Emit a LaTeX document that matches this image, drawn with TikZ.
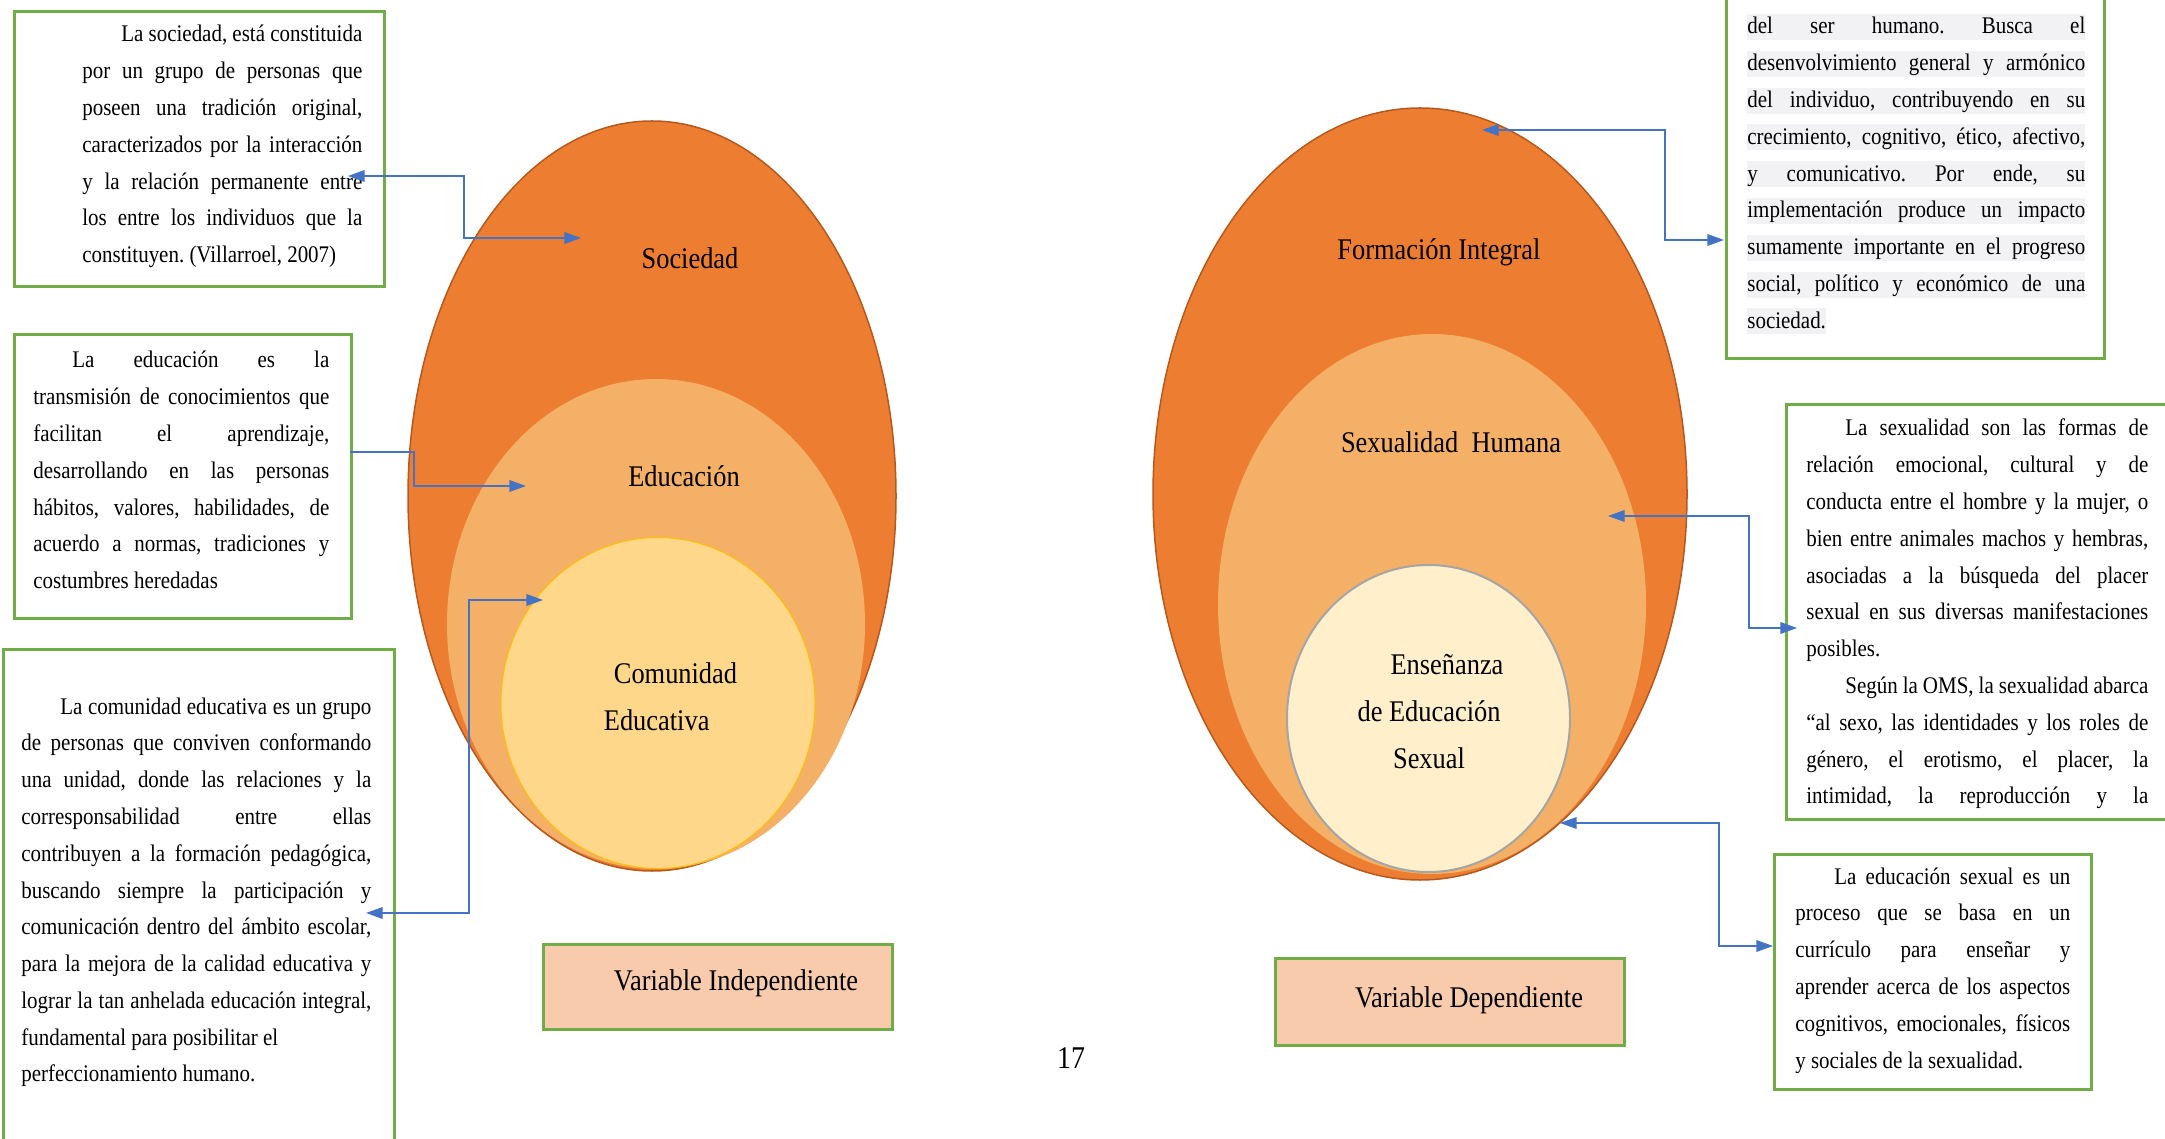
\documentclass[tikz,border=0pt]{standalone}
\usepackage{fontspec}
\setmainfont{Liberation Serif}[FakeStretch=0.88]
\usepackage{xcolor}
\usetikzlibrary{arrows.meta, shapes.geometric}

\definecolor{boxgreen}{HTML}{70AD47}
\definecolor{linkblue}{HTML}{4472C4}
\definecolor{peach}{HTML}{F8CBAD}
\definecolor{orangeA}{HTML}{ED7D31}
\definecolor{orangeEdge}{HTML}{B5591F}
\definecolor{orangeB}{HTML}{F4B066}
\definecolor{goldC}{HTML}{FED78B}
\definecolor{goldEdge}{HTML}{FFC000}
\definecolor{creamC}{HTML}{FFF0CB}
\definecolor{greyEdge}{HTML}{A5A5A5}
\definecolor{hlgrey}{HTML}{F2F2F4}

\newlength{\upx}\setlength{\upx}{0.6pt}
\newlength{\indw}\setlength{\indw}{39\upx}
\setlength{\fboxsep}{0pt}
\frenchspacing
\newcommand{\txtfont}{\fontsize{14.3pt}{22.08pt}\selectfont\frenchspacing}
\newcommand{\lblfont}{\fontsize{18pt}{28.2pt}\selectfont}
\newcommand{\jl}[1]{\makebox[\linewidth][s]{#1}\par}
\newcommand{\ji}[1]{\hspace*{\indw}\makebox[\dimexpr\linewidth-\indw\relax][s]{#1}\par}
\newcommand{\hj}[1]{\colorbox{hlgrey}{\rule[-3.6pt]{0pt}{15.6pt}\makebox[\linewidth][s]{#1}}\par}
\newcommand{\para}[2]{\parbox[t]{#1}{\txtfont #2}}

\tikzset{
  txtbox/.style={draw=boxgreen, line width=1.8pt, rectangle, inner sep=0pt},
  varbox/.style={txtbox, fill=peach, font=\lblfont},
  ring/.style={ellipse, inner sep=0pt},
  link/.style={draw=linkblue, line width=0.9pt},
  tip/.style={-{Triangle[length=10pt, width=7pt]}},
  tips/.style={{Triangle[length=10pt, width=7pt]}-{Triangle[length=10pt, width=7pt]}}
}

\begin{document}
\begin{tikzpicture}[x=0.6pt, y=-0.6pt]
\useasboundingbox (0,0) rectangle (2165,1139);
\clip (0,0) rectangle (2165,1139);

\node[ring, fill=orangeA, draw=orangeEdge, line width=0.9pt, minimum width=488*\upx, minimum height=750*\upx] (soc) at (652,496) {};
\node[ring, fill=orangeB, minimum width=418*\upx, minimum height=490*\upx] (edu) at (656,624) {};
\node[ring, fill=goldC, draw=goldEdge, line width=0.6pt, minimum width=314*\upx, minimum height=331*\upx] (com) at (658,703) {};

\node[ring, fill=orangeA, draw=orangeEdge, line width=0.9pt, minimum width=534*\upx, minimum height=772*\upx] (form) at (1420,494) {};
\node[ring, fill=orangeB, minimum width=428*\upx, minimum height=540*\upx] (sexh) at (1432,604) {};
\node[ring, fill=creamC, draw=greyEdge, line width=1.2pt, minimum width=283*\upx, minimum height=307*\upx] (ense) at (1428.5,718.5) {};

\node[font=\lblfont] (soclbl) at (690,258) {Sociedad};
\node[font=\lblfont] (edulbl) at (684,476) {Educación};
\node[font=\lblfont, align=left] (comlbl) at (670.5,697) {\hspace*{10\upx}Comunidad\\Educativa};
\node[font=\lblfont] (formlbl) at (1439,252) {Formación Integral};
\node[font=\lblfont] (sexlbl) at (1451,442) {Sexualidad~~Humana};
\node[font=\lblfont, align=center] (enslbl) at (1429,711.5) {\hspace*{36\upx}Enseñanza\\de Educación\\Sexual};

\node[txtbox, anchor=north west, minimum width=370*\upx, minimum height=275*\upx] (socbox) at (13,10) {};
\node[anchor=base west, inner sep=0pt] (soctxt) at (82,42) {\para{280\upx}{%
\ji{La sociedad, está constituida}
\jl{por un grupo de personas que}
\jl{poseen una tradición original,}
\jl{caracterizados por la interacción}
\jl{y la relación permanente entre}
\jl{los entre los individuos que la}
constituyen. (Villarroel, 2007)\par}};

\node[txtbox, anchor=north west, minimum width=337*\upx, minimum height=284*\upx] (edubox) at (13,333) {};
\node[anchor=base west, inner sep=0pt] (edutxt) at (33,368) {\para{296\upx}{%
\ji{La educación es la}
\jl{transmisión de conocimientos que}
\jl{facilitan el aprendizaje,}
\jl{desarrollando en las personas}
\jl{hábitos, valores, habilidades, de}
\jl{acuerdo a normas, tradiciones y}
costumbres heredadas\par}};

\node[txtbox, anchor=north west, minimum width=391*\upx, minimum height=512*\upx] (combox) at (2,648) {};
\node[anchor=base west, inner sep=0pt] (comtxt) at (21,714) {\para{350\upx}{%
\ji{La comunidad educativa es un grupo}
\jl{de personas que conviven conformando}
\jl{una unidad, donde las relaciones y la}
\jl{corresponsabilidad entre ellas}
\jl{contribuyen a la formación pedagógica,}
\jl{buscando siempre la participación y}
\jl{comunicación dentro del ámbito escolar,}
\jl{para la mejora de la calidad educativa y}
\jl{lograr la tan anhelada educación integral,}
fundamental para posibilitar el\par
perfeccionamiento humano.\par}};

\node[txtbox, anchor=north west, minimum width=378*\upx, minimum height=417*\upx] (formbox) at (1725,-60) {};
\node[anchor=base west, inner sep=0pt] (formtxt) at (1747,34) {\para{338\upx}{%
\hj{del ser humano. Busca el}
\hj{desenvolvimiento general y armónico}
\hj{del individuo, contribuyendo en su}
\hj{crecimiento, cognitivo, ético, afectivo,}
\hj{y comunicativo. Por ende, su}
\hj{implementación produce un impacto}
\hj{sumamente importante en el progreso}
\hj{social, político y económico de una}
\colorbox{hlgrey}{\rule[-3.6pt]{0pt}{15.6pt}sociedad.}\par}};

\node[txtbox, anchor=north west, minimum width=400*\upx, minimum height=415*\upx] (sexbox) at (1785,403) {};
\node[anchor=base west, inner sep=0pt] (sextxt) at (1806,436) {\para{342\upx}{%
\ji{La sexualidad son las formas de}
\jl{relación emocional, cultural y de}
\jl{conducta entre el hombre y la mujer, o}
\jl{bien entre animales machos y hembras,}
\jl{asociadas a la búsqueda del placer}
\jl{sexual en sus diversas manifestaciones}
posibles.\par
\ji{Según la OMS, la sexualidad abarca}
\jl{“al sexo, las identidades y los roles de}
\jl{género, el erotismo, el placer, la}
\jl{intimidad, la reproducción y la}}};

\node[txtbox, anchor=north west, minimum width=317*\upx, minimum height=235*\upx] (ensbox) at (1773,853) {};
\node[anchor=base west, inner sep=0pt] (enstxt) at (1795,884) {\para{275\upx}{%
\ji{La educación sexual es un}
\jl{proceso que se basa en un}
\jl{currículo para enseñar y}
\jl{aprender acerca de los aspectos}
\jl{cognitivos, emocionales, físicos}
y sociales de la sexualidad.\par}};

\node[varbox, minimum width=349*\upx, minimum height=85*\upx] (vind) at (717.5,986.5) {\hspace*{37\upx}\raisebox{2pt}[\height][\depth]{Variable Independiente}};
\node[varbox, minimum width=349*\upx, minimum height=87*\upx] (vdep) at (1449.5,1001.5) {\hspace*{39\upx}\raisebox{1pt}[\height][\depth]{Variable Dependiente}};
\node[font=\fontsize{19pt}{22pt}\selectfont] (pagenum) at (1071,1058) {17};

\coordinate (socout) at (348,176);
\coordinate (socin) at (581,238);
\coordinate (eduout) at (350,452);
\coordinate (eduin) at (526,486);
\coordinate (comout) at (366,913);
\coordinate (comin) at (543,600);
\coordinate (formin) at (1482,130);
\coordinate (formout) at (1724,240);
\coordinate (sexin) at (1608,516);
\coordinate (sexout) at (1797,628);
\coordinate (ensin) at (1560,823);
\coordinate (ensout) at (1773,946);

\draw[link, tips] (socout) -- ++(116,0) |- (socin);
\draw[link, tip] (eduout) -- ++(64,0) |- (eduin);
\draw[link, tips] (comout) -- ++(103,0) |- (comin);
\foreach \a/\b/\d in {formin/formout/183, sexin/sexout/141, ensin/ensout/159}
  \draw[link, tips] (\a) -- ++(\d,0) |- (\b);
\end{tikzpicture}
\end{document}
